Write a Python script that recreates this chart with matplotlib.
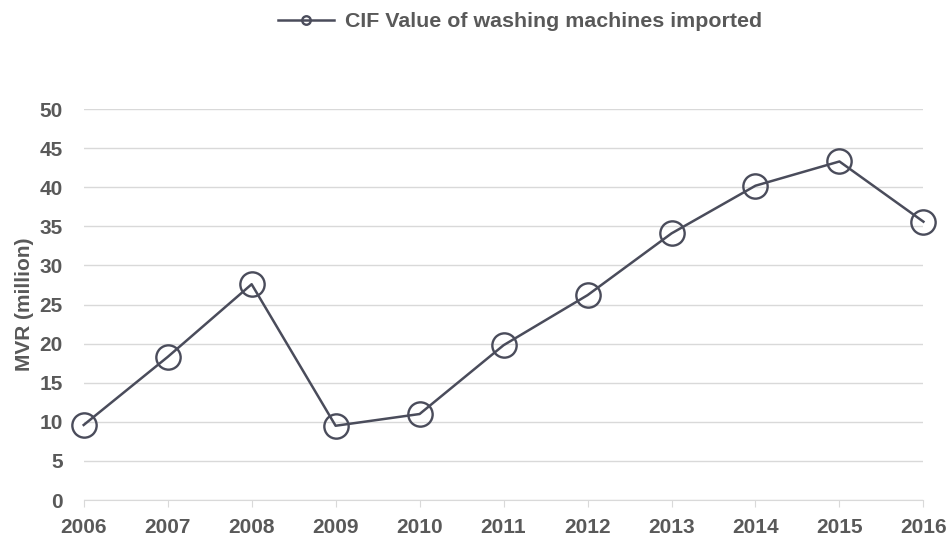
import matplotlib.pyplot as plt

years = [2006, 2007, 2008, 2009, 2010, 2011, 2012, 2013, 2014, 2015, 2016]
cif_value = [9.6, 18.3, 27.6, 9.5, 11.0, 19.8, 26.2, 34.1, 40.2, 43.3, 35.6]
series_label = "CIF Value of washing machines imported"

plt.rcParams['font.family'] = ['Liberation Sans', 'DejaVu Sans']
text_col = '#595959'
line_col = '#4a4c5b'
fs = 15

fig = plt.figure(figsize=(9.51, 5.4), dpi=100)
ax = fig.add_axes([0.088, 0.074, 0.883, 0.724])

ax.plot(years, cif_value, color=line_col, lw=1.8, marker='o', ms=17.5,
        mfc='none', mec=line_col, mew=1.7, label=series_label, clip_on=False, zorder=3)

ax.set_xlim(2006, 2016)
ax.set_ylim(0, 50)
ax.set_yticks(range(0, 51, 5))
ax.set_xticks(years)
ax.grid(axis='y', color='#d9d9d9', lw=1)
ax.set_axisbelow(True)
for s in ['top', 'right', 'left']:
    ax.spines[s].set_visible(False)
ax.spines['bottom'].set_color('#d9d9d9')
ax.tick_params(axis='y', length=0, pad=15, labelsize=fs, labelcolor=text_col)
ax.tick_params(axis='x', length=5, color='#d9d9d9', pad=8, labelsize=fs, labelcolor=text_col)
for lab in ax.get_xticklabels() + ax.get_yticklabels():
    lab.set_fontweight('bold')

ax.set_ylabel('MVR (million)', fontsize=fs, fontweight='bold', color=text_col, labelpad=4)

leg = fig.legend(loc='center', bbox_to_anchor=(0.547, 0.96), frameon=False,
                 prop={'weight': 'bold', 'size': 15.4}, handlelength=2.6, handletextpad=0.5,
                 markerscale=0.35)
for t in leg.get_texts():
    t.set_color(text_col)

fig.savefig('out.png', dpi=100)
